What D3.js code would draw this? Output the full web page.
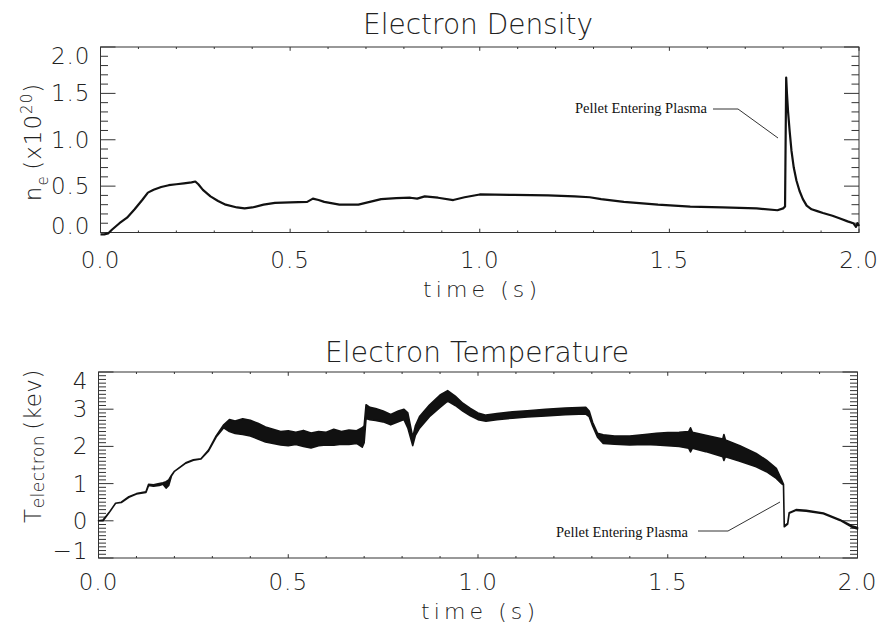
<!DOCTYPE html>
<html>
<head>
<meta charset="utf-8">
<script src="https://cdn.jsdelivr.net/npm/d3@7"></script>
<style>
  html, body { margin: 0; padding: 0; background: #fff; }
  svg { display: block; }
  .hf { font-family: "DejaVu Sans ExtraLight", "DejaVu Sans", sans-serif; font-weight: 200; fill: #222; }
  .ann { font-family: "Liberation Serif", "Times New Roman", serif; fill: #111; }
</style>
</head>
<body>
<svg id="chart" width="881" height="633"></svg>
<script>
// ---------------- DATA ----------------
const densityTitle = "Electron Density";
const tempTitle = "Electron Temperature";
const xTickLabels = ["0.0", "0.5", "1.0", "1.5", "2.0"];
const densityYTicks = ["0.0", "0.5", "1.0", "1.5", "2.0"];
const tempYTicks = ["\u22121", "0", "1", "2", "3", "4"];
const annotationText = "Pellet Entering Plasma";

const densityTime = [0.000,0.010,0.020,0.030,0.050,0.070,0.090,0.110,0.125,0.140,0.160,0.180,0.200,0.220,0.240,0.250,0.258,0.270,0.290,0.310,0.330,0.360,0.380,0.400,0.430,0.460,0.500,0.545,0.560,0.575,0.590,0.630,0.680,0.710,0.740,0.780,0.817,0.835,0.855,0.890,0.930,0.960,1.000,1.090,1.180,1.250,1.290,1.320,1.380,1.470,1.555,1.640,1.730,1.785,1.800,1.805,1.808,1.810,1.813,1.817,1.822,1.828,1.835,1.843,1.852,1.862,1.875,1.890,1.905,1.930,1.950,1.970,1.985,1.992,1.996,2.000];
const densityValue = [-0.02,-0.03,-0.01,0.03,0.10,0.16,0.25,0.35,0.43,0.46,0.49,0.51,0.52,0.53,0.54,0.55,0.52,0.46,0.39,0.34,0.30,0.27,0.26,0.27,0.30,0.32,0.325,0.33,0.365,0.35,0.33,0.30,0.30,0.33,0.36,0.37,0.375,0.365,0.39,0.375,0.35,0.38,0.41,0.405,0.40,0.39,0.38,0.36,0.33,0.30,0.28,0.27,0.26,0.24,0.26,0.28,1.67,1.50,1.30,1.10,0.88,0.70,0.56,0.45,0.36,0.29,0.25,0.23,0.21,0.18,0.15,0.12,0.10,0.06,0.10,0.07];

const tempTime = [0.000,0.012,0.030,0.045,0.060,0.080,0.100,0.125,0.132,0.145,0.160,0.170,0.178,0.185,0.192,0.200,0.230,0.250,0.270,0.290,0.310,0.330,0.345,0.360,0.380,0.400,0.420,0.440,0.460,0.480,0.500,0.520,0.540,0.560,0.580,0.600,0.620,0.640,0.660,0.680,0.695,0.700,0.705,0.715,0.730,0.750,0.770,0.790,0.805,0.815,0.828,0.835,0.846,0.872,0.900,0.920,0.940,0.960,0.980,1.000,1.021,1.050,1.091,1.130,1.178,1.230,1.284,1.293,1.302,1.315,1.330,1.360,1.400,1.440,1.470,1.500,1.530,1.555,1.560,1.565,1.600,1.645,1.648,1.652,1.690,1.733,1.760,1.786,1.800,1.805,1.807,1.816,1.820,1.838,1.865,1.910,1.954,1.985,2.000];
const tempLow  = [0.00,0.00,0.25,0.47,0.49,0.63,0.72,0.76,0.95,0.93,0.95,0.98,0.88,0.95,1.20,1.33,1.55,1.63,1.66,1.88,2.25,2.50,2.40,2.35,2.32,2.28,2.20,2.12,2.08,2.04,2.02,2.05,2.00,1.96,2.02,2.04,2.03,2.06,2.05,2.08,1.98,2.10,2.75,2.72,2.70,2.66,2.58,2.66,2.72,2.50,2.02,2.30,2.49,2.80,3.05,3.22,3.10,2.95,2.82,2.72,2.68,2.72,2.76,2.79,2.82,2.85,2.87,2.80,2.55,2.25,2.08,2.06,2.04,2.05,2.04,2.02,2.00,1.95,1.85,1.95,1.86,1.72,1.62,1.72,1.60,1.45,1.32,1.14,1.00,0.96,-0.16,-0.09,0.20,0.28,0.26,0.19,0.01,-0.17,-0.22];
const tempHigh = [0.00,0.02,0.25,0.47,0.50,0.65,0.73,0.78,0.98,0.97,1.00,1.02,1.05,1.10,1.22,1.33,1.56,1.64,1.67,1.90,2.28,2.58,2.72,2.68,2.74,2.70,2.62,2.52,2.46,2.40,2.42,2.38,2.43,2.36,2.40,2.38,2.46,2.40,2.44,2.42,2.50,2.55,3.12,3.05,3.02,2.95,2.86,2.95,3.00,2.90,2.25,2.55,2.80,3.11,3.38,3.50,3.35,3.16,3.02,2.90,2.84,2.88,2.93,2.96,3.00,3.03,3.05,2.95,2.65,2.35,2.31,2.28,2.28,2.32,2.35,2.37,2.38,2.40,2.50,2.38,2.30,2.20,2.32,2.17,2.02,1.81,1.63,1.41,1.10,0.98,-0.14,-0.07,0.22,0.30,0.28,0.21,0.03,-0.13,-0.18];

// ---------------- DRAW ----------------
const svg = d3.select("#chart");
const axisColor = "#333";

function drawFrame(g, x, y, yMinor, yMajorVals, yLabels, xLabelOffset) {
  const [xa, xb] = x.range();
  const [yb, ya] = y.range();
  const xLenMaj = 3.8, xLenMin = 2, yLenMaj = 15, yLenMin = 7.5;
  g.append("rect").attr("x", xa).attr("y", ya).attr("width", xb - xa).attr("height", yb - ya)
    .attr("fill", "none").attr("stroke", axisColor).attr("stroke-width", 1);
  const xMajorVals = xTickLabels.map(Number);
  const xTicks = d3.range(0, 21).map(i => i / 10);
  xTicks.forEach(t => {
    const major = xMajorVals.some(v => Math.abs(v - t) < 1e-9);
    const L = major ? xLenMaj : xLenMin;
    g.append("line").attr("x1", x(t)).attr("x2", x(t)).attr("y1", yb).attr("y2", yb - L).attr("stroke", axisColor);
    g.append("line").attr("x1", x(t)).attr("x2", x(t)).attr("y1", ya).attr("y2", ya + L).attr("stroke", axisColor);
  });
  yMinor.forEach(v => {
    const major = yMajorVals.some(m => Math.abs(m - v) < 1e-9);
    const L = major ? yLenMaj : yLenMin;
    g.append("line").attr("x1", xa).attr("x2", xa + L).attr("y1", y(v)).attr("y2", y(v)).attr("stroke", axisColor);
    g.append("line").attr("x1", xb).attr("x2", xb - L).attr("y1", y(v)).attr("y2", y(v)).attr("stroke", axisColor);
  });
  xTickLabels.forEach(lbl => {
    g.append("text").attr("class", "hf").attr("x", x(+lbl)).attr("y", yb + xLabelOffset)
      .attr("text-anchor", "middle").attr("font-size", 23).attr("letter-spacing", 1).text(lbl);
  });
  yLabels.forEach((lbl, i) => {
    const v = yMajorVals[i];
    let dy = 8;
    if (i === 0) dy = 1;
    if (i === yLabels.length - 1) dy = 17;
    g.append("text").attr("class", "hf").attr("x", xa - 10).attr("y", y(v) + dy)
      .attr("text-anchor", "end").attr("font-size", 23).attr("letter-spacing", 1).text(lbl);
  });
}

// ---- Top: density ----
const xTop = d3.scaleLinear().domain([0, 2]).range([100.5, 859]);
const yTop = d3.scaleLinear().domain([0, 2]).range([232.5, 47]);
const gTop = svg.append("g");
drawFrame(gTop, xTop, yTop, d3.range(0, 21).map(i => i / 10),
  densityYTicks.map(Number), densityYTicks, 35);

gTop.append("path")
  .datum(densityTime.map((t, i) => [t, densityValue[i]]))
  .attr("fill", "none").attr("stroke", "#111").attr("stroke-width", 2.2)
  .attr("stroke-linejoin", "round")
  .attr("d", d3.line().x(d => xTop(d[0])).y(d => yTop(Math.max(d[1], -0.02))));

gTop.append("text").attr("class", "hf").attr("x", 478).attr("y", 34)
  .attr("text-anchor", "middle").attr("font-size", 28).attr("textLength", 230)
  .attr("lengthAdjust", "spacing").text(densityTitle);

gTop.append("text").attr("class", "hf").attr("x", 480).attr("y", 297)
  .attr("text-anchor", "middle").attr("font-size", 22).attr("textLength", 114)
  .attr("lengthAdjust", "spacing").text("time (s)");

const yl1 = gTop.append("text").attr("class", "hf")
  .attr("transform", "translate(41,142) rotate(-90)")
  .attr("text-anchor", "middle").attr("font-size", 23).attr("letter-spacing", 1);
yl1.append("tspan").text("n");
yl1.append("tspan").attr("font-size", 15).attr("dy", 7).text("e");
yl1.append("tspan").attr("dy", -7).text("\u2009(x10");
yl1.append("tspan").attr("font-size", 15).attr("dy", -9).text("20");
yl1.append("tspan").attr("dy", 9).text(")");

gTop.append("text").attr("class", "ann").attr("x", 707).attr("y", 113)
  .attr("text-anchor", "end").attr("font-size", 14.5).text(annotationText);
gTop.append("path").attr("fill", "none").attr("stroke", "#333").attr("stroke-width", 1)
  .attr("d", d3.line()([[713, 109], [738, 109], [778, 138]]));

// ---- Bottom: temperature ----
const xBot = d3.scaleLinear().domain([0, 2]).range([98.5, 857.5]);
const yBot = d3.scaleLinear().domain([-1, 4]).range([558, 372]);
const gBot = svg.append("g");
drawFrame(gBot, xBot, yBot, d3.range(-10, 41).map(i => i / 10),
  [-1, 0, 1, 2, 3, 4], tempYTicks, 32);

const tempData = tempTime.map((t, i) => ({ t, lo: tempLow[i], hi: tempHigh[i] }));
gBot.append("path").datum(tempData)
  .attr("fill", "#111").attr("stroke", "#111").attr("stroke-width", 1.6)
  .attr("stroke-linejoin", "round")
  .attr("d", d3.area().x(d => xBot(d.t)).y0(d => yBot(d.lo)).y1(d => yBot(d.hi)));

gBot.append("text").attr("class", "hf").attr("x", 477).attr("y", 362)
  .attr("text-anchor", "middle").attr("font-size", 28).attr("textLength", 304)
  .attr("lengthAdjust", "spacing").text(tempTitle);

gBot.append("text").attr("class", "hf").attr("x", 478).attr("y", 619)
  .attr("text-anchor", "middle").attr("font-size", 22).attr("textLength", 114)
  .attr("lengthAdjust", "spacing").text("time (s)");

const yl2 = gBot.append("text").attr("class", "hf")
  .attr("transform", "translate(41,446) rotate(-90)")
  .attr("text-anchor", "middle").attr("font-size", 23).attr("letter-spacing", 0.5);
yl2.append("tspan").text("T");
yl2.append("tspan").attr("font-size", 17).attr("dy", 3).text("electron");
yl2.append("tspan").attr("dy", -3).text("\u2009(kev)");

gBot.append("text").attr("class", "ann").attr("x", 688).attr("y", 537)
  .attr("text-anchor", "end").attr("font-size", 14.5).text(annotationText);
gBot.append("path").attr("fill", "none").attr("stroke", "#333").attr("stroke-width", 1)
  .attr("d", d3.line()([[698, 531], [728, 531], [780, 502]]));
</script>
</body>
</html>
